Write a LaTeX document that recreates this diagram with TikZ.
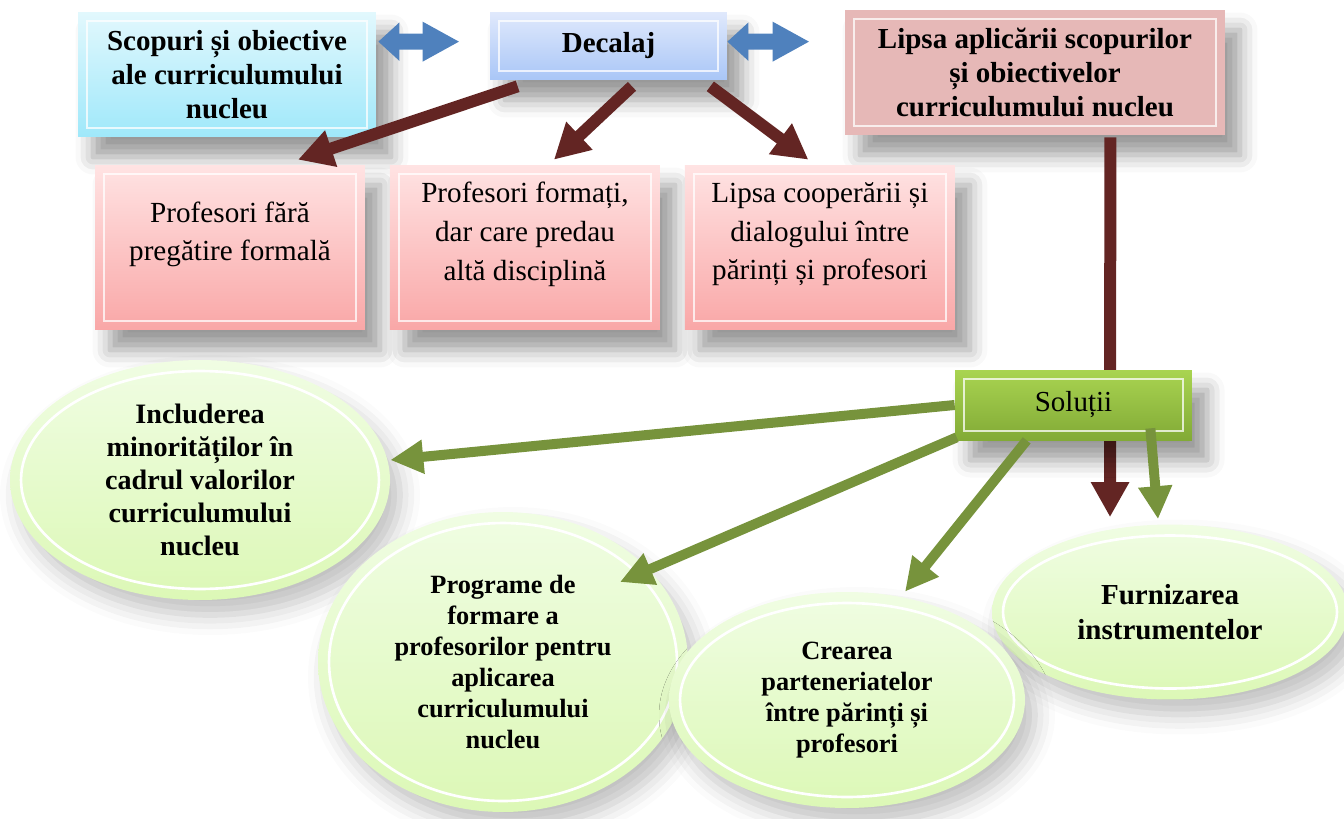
\documentclass[tikz,border=0pt]{standalone}
\usepackage{fontspec}
\setmainfont{Liberation Serif}
\usepackage{xcolor}
\usepackage{tikz}
\usetikzlibrary{arrows.meta,shadows.blur,calc,shapes.geometric}

\definecolor{cyantop}{HTML}{E2F8FD}
\definecolor{cyanbot}{HTML}{9FE8FA}
\definecolor{bluetop}{HTML}{E0E9FC}
\definecolor{bluebot}{HTML}{A9C6F7}
\definecolor{rosefill}{HTML}{E6B8B7}
\definecolor{pinktop}{HTML}{FFE3E3}
\definecolor{pinkbot}{HTML}{F9A7A7}
\definecolor{limetop}{HTML}{A9D451}
\definecolor{limebot}{HTML}{82AA36}
\definecolor{elltop}{HTML}{F0FDE3}
\definecolor{ellbot}{HTML}{DCF8B6}
\definecolor{darkred}{HTML}{632523}
\definecolor{olive}{HTML}{77933C}
\definecolor{steel}{HTML}{4F81BD}

\begin{document}
\begin{tikzpicture}[x=0.02cm,y=-0.02cm,node distance=5.9cm,
        shade/.style={blur shadow={shadow xshift=0.3cm,shadow yshift=-0.4cm,shadow blur radius=0.35cm,shadow opacity=40}},
        softshade/.style={blur shadow={shadow xshift=0.2cm,shadow yshift=-0.3cm,shadow blur radius=0.4cm,shadow opacity=25}},
        bevel/.style={path picture={\draw[white,line width=1.5pt,opacity=.75] ([shift={(0.18cm,-0.18cm)}]path picture bounding box.north west) rectangle ([shift={(-0.18cm,0.18cm)}]path picture bounding box.south east);}},
        ring/.style={path picture={\draw[white,line width=1.5pt] let \p1=($(path picture bounding box.north east)-(path picture bounding box.center)$) in (path picture bounding box.center) ellipse [x radius=\x1-0.22cm,y radius=\y1-0.22cm];}},
        topbox/.style={rectangle,align=center,inner sep=0pt,font=\bfseries\fontsize{16.5}{19.3}\selectfont,shade,bevel},
        pinkbox/.style={rectangle,align=center,inner sep=0pt,top color=pinktop,bottom color=pinkbot,minimum width=5.4cm,minimum height=3.3cm,text depth=0.65cm,font=\fontsize{16.6}{22}\selectfont,shade,bevel},
        limebox/.style={rectangle,align=center,top color=limetop,bottom color=limebot,minimum width=4.74cm,minimum height=1.4cm,font=\fontsize{16.5}{19}\selectfont,shade,bevel},
        ellnode/.style={ellipse,align=center,inner sep=0pt,top color=elltop,bottom color=ellbot,font=\bfseries\fontsize{15}{17.6}\selectfont,softshade,ring},
        redarrow/.style={darkred,line width=0.24cm,-{Triangle[width=0.72cm,length=0.7cm]}},
        greenarrow/.style={olive,line width=0.2cm,-{Triangle[width=0.64cm,length=0.66cm]}},
        bluearrow/.style={steel,line width=0.32cm,{Triangle[width=0.74cm,length=0.42cm]}-{Triangle[width=0.74cm,length=0.74cm]}}]
        \useasboundingbox (0,0) rectangle (1344,818);

        \node[topbox,top color=cyantop,bottom color=cyanbot,minimum width=5.96cm,minimum height=2.5cm] (goals) at (227,74.5) {Scopuri și obiective\\ale curriculumului\\nucleu};
        \node[topbox,top color=bluetop,bottom color=bluebot,minimum width=4.74cm,minimum height=1.36cm] (gap) at (608.5,46) {Decalaj};
        \node[topbox,fill=rosefill,minimum width=7.6cm,minimum height=2.5cm] (lack) at (1035,72.5) {Lipsa aplicării scopurilor\\și obiectivelor\\curriculumului nucleu};

        \node[pinkbox] (untrained) at (230,247.5) {Profesori fără\\pregătire formală};
        \node[pinkbox] (othersubj) [right of=untrained] {Profesori formați,\\dar care predau\\altă disciplină};
        \node[pinkbox] (nodialog) [right of=othersubj] {Lipsa cooperării și\\dialogului între\\părinți și profesori};

        \node[ellnode,minimum width=7.6cm,minimum height=4.8cm,font=\bfseries\fontsize{16}{18.7}\selectfont] (inclusion) at (200,480) {Includerea\\minorităților în\\cadrul valorilor\\curriculumului\\nucleu};
        \node[ellnode,minimum width=7.4cm,minimum height=6cm] (training) at (503,662) {Programe de\\formare a\\profesorilor pentru\\aplicarea\\curriculumului\\nucleu};
        \node[ellnode,minimum width=7.12cm,minimum height=3.5cm,font=\bfseries\fontsize{16.5}{20}\selectfont] (tools) at (1170,612) {Furnizarea\\instrumentelor};
        \node[ellnode,minimum width=7.12cm,minimum height=4.32cm] (partners) at (847,700) {Crearea\\parteneriatelor\\între părinți și\\profesori};

        \draw[redarrow] ([shift={(0.56cm,-0.12cm)}]gap.south west) -- ([shift={(1.36cm,0.1cm)}]untrained.north);
        \draw[redarrow] ([shift={(0.47cm,-0.12cm)}]gap.south) -- ([shift={(0.58cm,0.1cm)}]othersubj.north);
        \draw[redarrow] ([shift={(-0.34cm,-0.12cm)}]gap.south east) -- ([shift={(-0.23cm,0.1cm)}]nodialog.north);
        \draw[redarrow] ([shift={(-2.3cm,-0.04cm)}]lack.south east) -- ([shift={(-1.2cm,0.14cm)}]tools.north);

        \draw[bluearrow] ([shift={(0.04cm,-0.6cm)}]goals.north east) -- ([shift={(-0.6cm,-0.6cm)}]gap.north west);
        \draw[bluearrow] ([shift={(0cm,-0.6cm)}]gap.north east) -- ([shift={(-0.7cm,-0.64cm)}]lack.north west);

        \node[limebox] (sol) at (1073.5,405) {Soluții};

        \draw[greenarrow] (sol.west) -- ([yshift=0.4cm]inclusion.east);
        \draw[greenarrow] ([shift={(0.04cm,0.06cm)}]sol.south west) -- ([shift={(2.34cm,1.6cm)}]training.center);
        \draw[greenarrow] ([xshift=1.44cm]sol.south west) -- ([xshift=1.16cm]partners.north);
        \draw[greenarrow] ([shift={(-0.84cm,0.24cm)}]sol.south east) -- ([shift={(-0.24cm,0.1cm)}]tools.north);
    \end{tikzpicture}
\end{document}
